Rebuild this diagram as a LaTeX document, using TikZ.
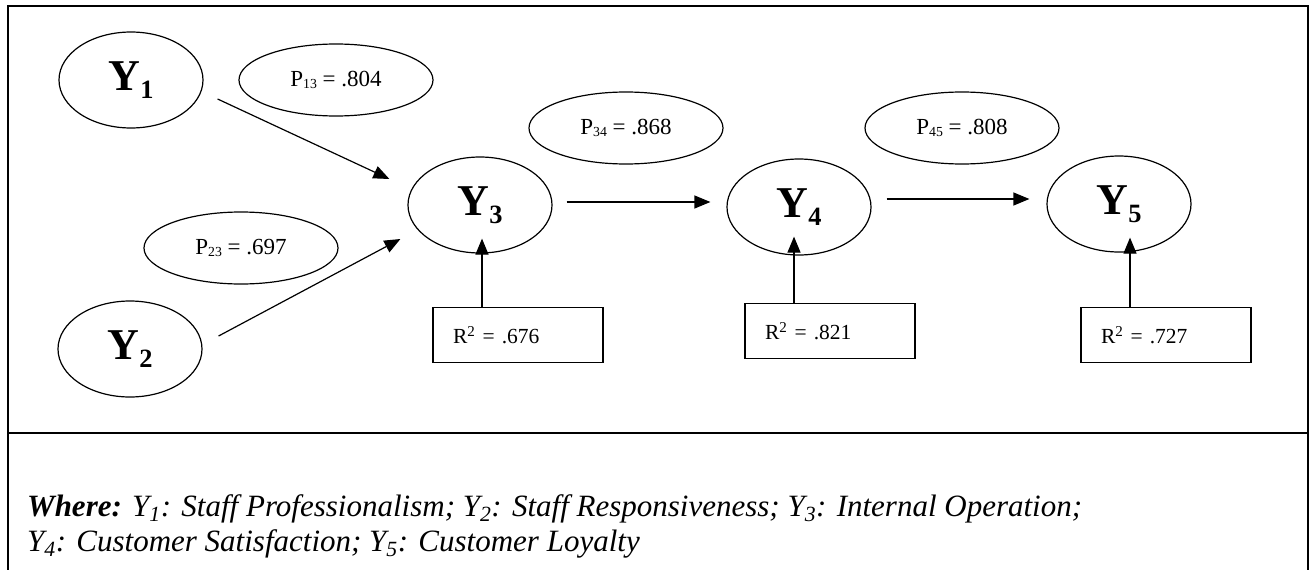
\documentclass[tikz,border=0pt]{standalone}
\usepackage{fontspec}
\setmainfont{Liberation Serif}
\usetikzlibrary{arrows.meta, calc, shapes.geometric}
\newcommand\idx[3][0.17em]{#2\raisebox{-#1}{\scalebox{0.6}{#3}}}

\begin{document}
\begin{tikzpicture}[x=1pt, y=-1pt,
    latent/.style = {ellipse, draw, line width=1.2pt, minimum width=144pt, minimum height=96pt, inner sep=0pt, font=\fontsize{44}{48}\selectfont\bfseries},
    coef/.style = {ellipse, draw, line width=1.2pt, minimum width=194pt, minimum height=72pt, inner sep=0pt, font=\fontsize{23}{25}\selectfont},
    rsq/.style = {rectangle, draw, line width=1.2pt, minimum width=170pt, minimum height=55pt, text width=130pt, inner xsep=20pt, align=left, font=\fontsize{21.5}{24}\selectfont},
    arr/.style = {-{Triangle[length=16pt, width=13pt]}, line width=1.2pt},
    key/.style = {anchor=base west, inner sep=0pt, font=\fontsize{31}{32}\selectfont\itshape}]
        \useasboundingbox (0,0) rectangle (1314,570);
        \draw[line width=2pt] (8,570) -- (8,6) -- (1308,6) -- (1308,570); % frame
        \draw[line width=2pt] (8,433) -- (1308,433);
        \node[latent] (y1) at (131,80) {\idx{Y}{1}};
        \node[latent] (y2) at (130,349) {\idx{Y}{2}};
        \node[latent] (y3) at (480,205) {\idx{Y}{3}};
        \node[latent] (y4) at (799,207) {\idx{Y}{4}};
        \node[latent] (y5) at (1119,204) {\idx{Y}{5}};
        \node[coef] (p13) at (336,80) {\idx[0.1em]{P}{13} = .804};
        \node[coef] (p23) at (241,248) {\idx[0.1em]{P}{23} = .697};
        \node[coef] (p34) at (626,128) {\idx[0.1em]{P}{34} = .868};
        \node[coef] (p45) at (962,128) {\idx[0.1em]{P}{45} = .808};
        \node[rsq] (r3) at (518,335) {R\textsuperscript{2} = .676};
        \node[rsq] (r4) at (830,331) {R\textsuperscript{2} = .821};
        \node[rsq] (r5) at (1166,335) {R\textsuperscript{2} = .727};
        \coordinate (t3) at ($(y3.south)+(2,-15)$);
        \coordinate (t4) at ($(y4.south)+(-5,-19)$);
        \coordinate (t5) at ($(y5.south)+(11,-15)$);
        \draw[arr] ($(y1.east)+(14,19)$) -- ($(y3.west)+(-18,-26)$);
        \draw[arr] ($(y2.east)+(16,-13)$) -- ($(y3.west)+(-7,34)$);
        \draw[arr] ($(y3.east)+(14,-3)$) -- ($(y4.west)+(-16,-5)$);
        \draw[arr] ($(y4.east)+(15,-8)$) -- ($(y5.west)+(-17,-5)$);
        \draw[arr] (t3 |- r3.north) -- (t3);
        \draw[arr] (t4 |- r4.north) -- (t4);
        \draw[arr] (t5 |- r5.north) -- (t5);
        \node[key] (key1) at (27,516) {\textbf{Where:} Y\textsubscript{1}: Staff Professionalism; Y\textsubscript{2}: Staff Responsiveness; Y\textsubscript{3}: Internal Operation;};
        \node[key] (key2) at (27,551) {Y\textsubscript{4}: Customer Satisfaction; Y\textsubscript{5}: Customer Loyalty};
\end{tikzpicture}
\end{document}
